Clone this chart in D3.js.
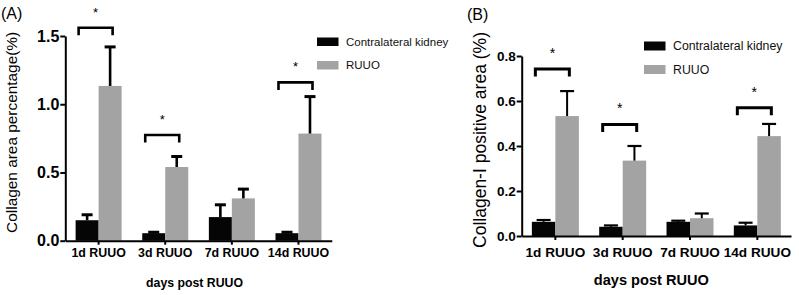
<!DOCTYPE html>
<html><head><meta charset="utf-8">
<script src="https://cdn.jsdelivr.net/npm/d3@7"></script>
<style>body{margin:0;background:#fff}svg{display:block}</style>
</head><body>
<svg id="c" width="799" height="295"></svg>
<script>
const categories = ["1d RUUO", "3d RUUO", "7d RUUO", "14d RUUO"];
const seriesNames = ["Contralateral kidney", "RUUO"];
// Panel A: Collagen area percentage (%)
const aContra = [0.150, 0.055, 0.173, 0.055];
const aContraSem = [0.040, 0.007, 0.090, 0.007];
const aRuuo = [1.134, 0.540, 0.310, 0.785];
const aRuuoSem = [0.286, 0.077, 0.068, 0.271];
const aTicks = [0, 0.5, 1.0, 1.5];
const aSigCats = ["1d RUUO", "3d RUUO", "14d RUUO"];
const aSigLevels = [1.56, 0.775, 1.16];
// Panel B: Collagen-I positive area (%)
const bContra = [0.063, 0.041, 0.063, 0.047];
const bContraSem = [0.008, 0.006, 0.005, 0.012];
const bRuuo = [0.533, 0.335, 0.079, 0.444];
const bRuuoSem = [0.111, 0.065, 0.021, 0.054];
const bTicks = [0, 0.2, 0.4, 0.6, 0.8];
const bSigCats = ["1d RUUO", "3d RUUO", "14d RUUO"];
const bSigLevels = [0.742, 0.496, 0.570];

const colors = ["#050505", "#a3a3a3"];
const FONT = "'Liberation Sans', Arial, Helvetica, sans-serif";
const svg = d3.select("#c");

const panels = [
  {letter:"(A)", letterX:1, letterY:19, letterSize:16,
   x0:65.3, x1:331.8, yTop:36, yBot:240.7, ymax:1.5, ticks:aTicks,
   series:[{v:aContra,e:aContraSem},{v:aRuuo,e:aRuuoSem}],
   sigCats:aSigCats, sigLevels:aSigLevels,
   ylabel:"Collagen area percentage(%)", ylabelX:17, ylabelSize:15.4,
   ytickSize:16, xtickSize:12.4, xtickBase:257, xlabelSize:12.3, xlabelY:287,
   barW:23, capW:11, errW:2.6, capStroke:3, axisW:2, brW:2.6, legX:317, legY:37.5, legText:11.5, legGap:23.5, legRectH:8.5, starSize:13},
  {letter:"(B)", letterX:467, letterY:20, letterSize:16,
   x0:521.7, x1:791, yTop:56, yBot:236, ymax:0.8, ticks:bTicks,
   series:[{v:bContra,e:bContraSem},{v:bRuuo,e:bRuuoSem}],
   sigCats:bSigCats, sigLevels:bSigLevels,
   ylabel:"Collagen-I positive area (%)", ylabelX:486, ylabelSize:17.5,
   ytickSize:13.5, xtickSize:13.6, xtickBase:256.5, xlabelSize:14.6, xlabelY:284.5,
   barW:23.5, capW:14, errW:2, capStroke:2.2, axisW:2, brW:3, legX:644, legY:41.5, legText:12.3, legGap:23.5, legRectH:9, starSize:14}
];

panels.forEach(p => {
  const g = svg.append("g");
  const x = d3.scaleBand().domain(categories).range([p.x0, p.x1]).padding(0);
  const y = d3.scaleLinear().domain([0, p.ymax]).range([p.yBot, p.yTop]);
  const sub = d3.scaleBand().domain(d3.range(seriesNames.length)).range([-p.barW, p.barW]).padding(0);
  const cx = c => x(c) + x.bandwidth()/2;

  p.series.forEach((s, si) => {
    g.append("g").selectAll("rect").data(categories).join("rect")
      .attr("x", c => cx(c) + sub(si))
      .attr("width", sub.bandwidth())
      .attr("y", (c,i) => y(s.v[i]))
      .attr("height", (c,i) => y(0) - y(s.v[i]))
      .attr("fill", colors[si]);
    const eb = g.append("g").attr("stroke", "#000");
    categories.forEach((c, i) => {
      const mx = cx(c) + sub(si) + sub.bandwidth()/2;
      eb.append("line").attr("x1", mx).attr("x2", mx)
        .attr("y1", y(s.v[i])).attr("y2", y(s.v[i] + s.e[i]))
        .attr("stroke-width", p.errW);
      eb.append("line").attr("x1", mx - p.capW/2).attr("x2", mx + p.capW/2)
        .attr("y1", y(s.v[i] + s.e[i])).attr("y2", y(s.v[i] + s.e[i]))
        .attr("stroke-width", p.capStroke);
    });
  });

  const ya = g.append("g").attr("transform", `translate(${p.x0},0)`)
    .call(d3.axisLeft(y).tickValues(p.ticks).tickFormat(d3.format(".1f")).tickSize(5).tickSizeOuter(0).tickPadding(1));
  ya.select(".domain").attr("stroke-width", p.axisW);
  ya.selectAll(".tick line").attr("stroke-width", p.axisW);
  ya.selectAll("text").attr("font-family", FONT).attr("font-size", p.ytickSize).attr("font-weight", "bold").attr("fill", "#000");

  const xa = g.append("g").attr("transform", `translate(0,${p.yBot})`)
    .call(d3.axisBottom(x).tickSize(4).tickSizeOuter(0));
  xa.select(".domain").attr("stroke-width", p.axisW);
  xa.selectAll(".tick line").attr("stroke-width", p.axisW);
  xa.selectAll("text").attr("font-family", FONT).attr("font-size", p.xtickSize).attr("font-weight", "bold")
    .attr("fill", "#000").attr("dy", null).attr("y", p.xtickBase - p.yBot);

  p.sigCats.forEach((c, i) => {
    const l = cx(c) - 20, r = cx(c) + 14, yy = y(p.sigLevels[i]);
    g.append("path").attr("d", `M${l},${yy+7.5}V${yy}H${r}V${yy+7.5}`)
      .attr("fill", "none").attr("stroke", "#000").attr("stroke-width", p.brW);
    g.append("text").attr("x", (l + r)/2).attr("y", yy - 11).attr("text-anchor", "middle")
      .attr("font-family", FONT).attr("font-size", p.starSize).text("*");
  });

  seriesNames.forEach((n, i) => {
    const ly = p.legY + i * p.legGap;
    g.append("rect").attr("x", p.legX).attr("y", ly).attr("width", 21.5).attr("height", p.legRectH).attr("fill", colors[i]);
    g.append("text").attr("x", p.legX + 29).attr("y", ly + p.legRectH/2).attr("dy", "0.36em")
      .attr("font-family", FONT).attr("font-size", p.legText).attr("fill", "#111").text(n);
  });

  g.append("text").attr("transform", `translate(${p.ylabelX},${(p.yTop + p.yBot)/2 - 6}) rotate(-90)`)
    .attr("text-anchor", "middle").attr("font-family", FONT).attr("font-size", p.ylabelSize).text(p.ylabel);
  g.append("text").attr("x", (p.x0 + p.x1)/2 + (p.letter === "(A)" ? -4 : -5)).attr("y", p.xlabelY).attr("text-anchor", "middle")
    .attr("font-family", FONT).attr("font-size", p.xlabelSize).attr("font-weight", "bold").text("days post RUUO");
  g.append("text").attr("x", p.letterX).attr("y", p.letterY)
    .attr("font-family", FONT).attr("font-size", p.letterSize).text(p.letter);
});
</script>
</body></html>
